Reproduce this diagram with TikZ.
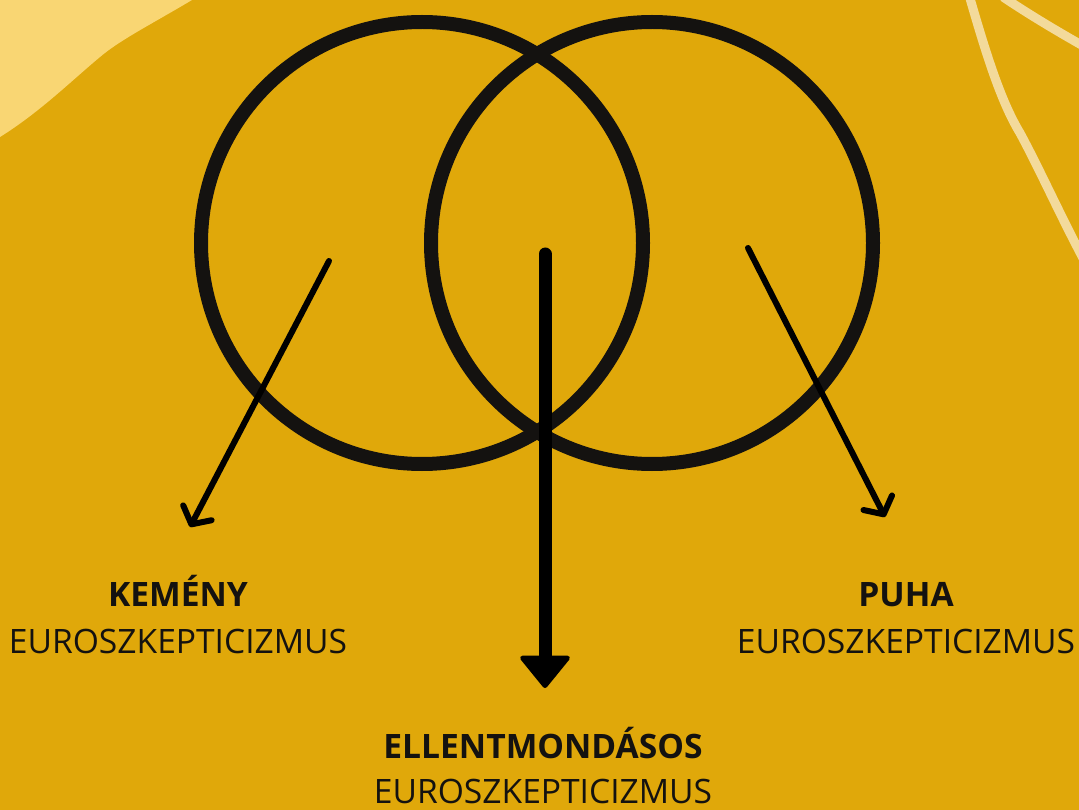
\documentclass[tikz,border=0pt]{standalone}
\usepackage{fontspec}
\setmainfont{Open Sans}
\usetikzlibrary{arrows.meta}
\definecolor{bgyellow}{HTML}{E0A80A}
\definecolor{lightyellow}{HTML}{F9D673}
\definecolor{paleline}{HTML}{F3DA9B}
\definecolor{ink}{HTML}{141210}
\tikzset{
  ring/.style={draw=ink, line width=14pt},
  thinarrow/.style={draw=black, line width=6pt, line cap=round,
    -{Straight Barb[length=13pt, width=32pt, line width=6pt, round]}},
  bigarrow/.style={draw=black, line width=13pt, line cap=round,
    -{Triangle[length=34pt, width=54pt, line width=5pt, round]}},
  head/.style={font=\fontsize{33.6}{40}\selectfont\bfseries, text=ink, anchor=base, inner sep=0pt},
  sub/.style={font=\fontsize{33.6}{40}\selectfont, text=ink, anchor=base, inner sep=0pt},
  deco/.style={draw=paleline, line width=9pt}
}
\begin{document}
\begin{tikzpicture}[x=1pt, y=-1pt]
\fill[bgyellow] (0,0) rectangle (1079,810);
\useasboundingbox (0,0) rectangle (1079,810);
% decorations
\fill[lightyellow] (0,0) -- (192,0) .. controls (150,25) and (120,40) .. (100,57)
  .. controls (70,82) and (40,112) .. (0,137) -- cycle;
\draw[deco] (969,-5) .. controls (985,50) and (1000,100) .. (1020,133)
  .. controls (1040,170) and (1060,215) .. (1085,262);
\draw[deco] (1003,-3) .. controls (1030,15) and (1055,30) .. (1085,47);
% circles
\node[ring, circle, minimum size=442pt, inner sep=0pt] (left) at (422,243) {};
\node[ring, circle, minimum size=442pt, inner sep=0pt] (right) at (652,243) {};
% arrow endpoints
\coordinate (ls) at (329,261);
\coordinate (le) at (190,527);
\coordinate (rs) at (748,248);
\coordinate (re) at (885,517);
\coordinate (ms) at (545,254);
\coordinate (me) at (545,688);
\draw[thinarrow] (ls) -- (le);
\draw[thinarrow] (rs) -- (re);
\draw[bigarrow] (ms) -- (me);
% labels
\node[head] (kh) at (178,606) {KEMÉNY};
\node[sub] (ks) at (178,653) {EUROSZKEPTICIZMUS};
\node[head] (ph) at (906,606) {PUHA};
\node[sub] (ps) at (906,653) {EUROSZKEPTICIZMUS};
\node[head] (eh) at (543,758) {ELLENTMONDÁSOS};
\node[sub] (es) at (543,803) {EUROSZKEPTICIZMUS};
\end{tikzpicture}
\end{document}
